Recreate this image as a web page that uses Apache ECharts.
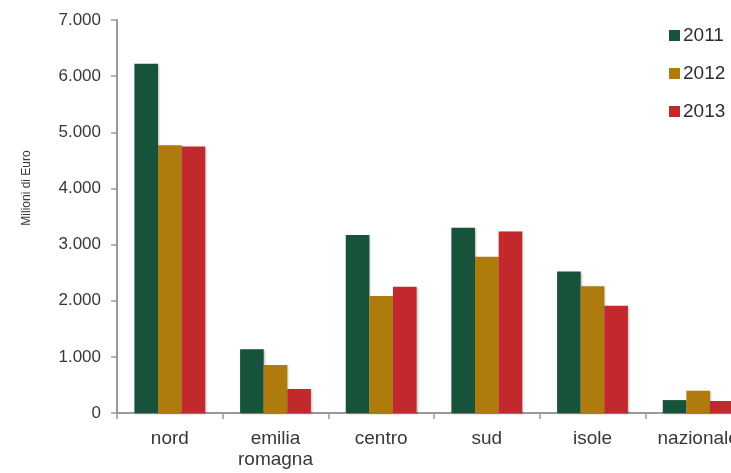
<!DOCTYPE html>
<html>
<head>
<meta charset="utf-8">
<script src="https://cdn.jsdelivr.net/npm/echarts@6/dist/echarts.min.js"></script>
<style>
  html, body { margin: 0; padding: 0; background: #ffffff; overflow: hidden; }
  #wrap { width: 731px; height: 473px; overflow: hidden; }
  #chart { width: 751px; height: 473px; }
</style>
</head>
<body>
<div id="wrap"><div id="chart"></div></div>
<script>
// Regional values, millions of euro
const categories = ['nord', 'emilia\nromagna', 'centro', 'sud', 'isole', 'nazionale'];
const years = ['2011', '2012', '2013'];
const values2011 = [6220, 1135, 3170, 3300, 2520, 230];
const values2012 = [4770, 855, 2085, 2785, 2257, 397];
const values2013 = [4745, 428, 2250, 3235, 1910, 214];
const yTicks = [0, 1000, 2000, 3000, 4000, 5000, 6000, 7000];

const colors = ['#17533b', '#ae7b0c', '#c1292d'];
const font = 'Liberation Sans, Arial, sans-serif';

function fmt(v) {
  return String(v).replace(/\B(?=(\d{3})+(?!\d))/g, '.');
}

const seriesValues = [values2011, values2012, values2013];

// the last category runs past the visible 731px edge, so the canvas is wider and clipped
const chart = echarts.init(document.getElementById('chart'), null, { renderer: 'canvas' });
chart.setOption({
  animation: false,
  backgroundColor: '#ffffff',
  color: colors,
  textStyle: { fontFamily: font },
  grid: { left: 117, top: 20, right: 0, height: 393, containLabel: false },
  legend: {
    orient: 'vertical',
    left: 664,
    top: 21,
    itemWidth: 11,
    itemHeight: 11,
    itemGap: 19,
    icon: 'rect',
    textStyle: { fontSize: 19, color: '#2e2e2e', fontFamily: font, padding: [0, 0, 0, -2] },
    data: years
  },
  xAxis: {
    type: 'category',
    data: categories,
    axisLine: { lineStyle: { color: '#9a9a9a', width: 2 } },
    axisTick: { show: true, length: 6, alignWithLabel: false, lineStyle: { color: '#9a9a9a', width: 1.5 } },
    axisLabel: { color: '#383838', fontSize: 19, margin: 15, lineHeight: 21, interval: 0, fontFamily: font },
    splitLine: { show: false }
  },
  yAxis: {
    type: 'value',
    min: 0,
    max: yTicks[yTicks.length - 1],
    interval: 1000,
    axisLine: { show: true, lineStyle: { color: '#9a9a9a', width: 2 } },
    axisTick: { show: true, length: 6, lineStyle: { color: '#9a9a9a', width: 1.5 } },
    axisLabel: { color: '#383838', fontSize: 17, margin: 16, fontFamily: font, formatter: fmt },
    splitLine: { show: false }
  },
  graphic: [{
    type: 'text',
    x: 27,
    y: 188,
    rotation: Math.PI / 2,
    style: {
      text: 'Milioni di Euro',
      fill: '#383838',
      font: '12px ' + font,
      align: 'center',
      verticalAlign: 'middle'
    }
  }],
  series: years.map((y, i) => ({
    name: y,
    type: 'bar',
    data: seriesValues[i],
    barGap: '0%',
    barCategoryGap: '33%',
    itemStyle: {
      color: colors[i],
      shadowBlur: 2,
      shadowColor: 'rgba(0,0,0,0.25)',
      shadowOffsetX: 1,
      shadowOffsetY: 1
    }
  }))
});
</script>
</body>
</html>
